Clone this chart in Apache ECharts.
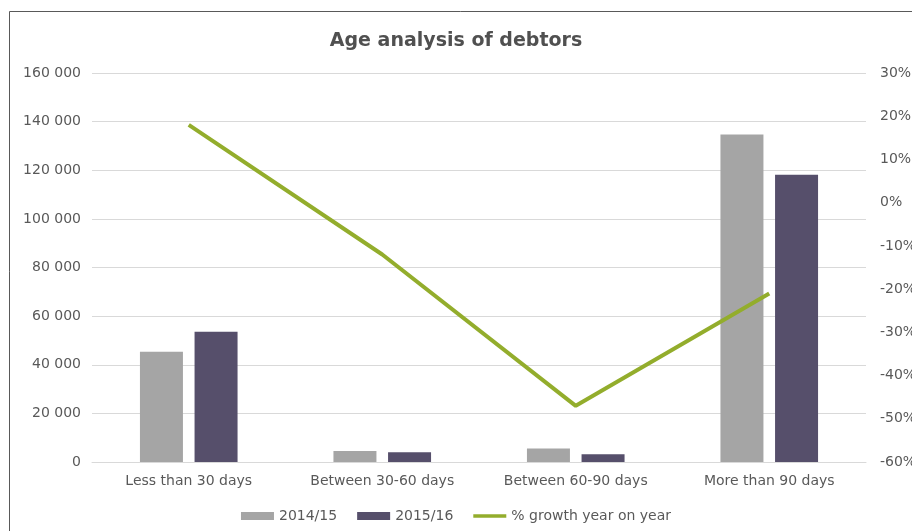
<!DOCTYPE html>
<html>
<head>
<meta charset="utf-8">
<script src="https://cdn.jsdelivr.net/npm/echarts@6/dist/echarts.min.js"></script>
<style>
  html, body { margin: 0; padding: 0; background: #ffffff; }
  #chart { width: 912px; height: 531px; }
</style>
</head>
<body>
<div id="chart"></div>
<script>
// Debtor ageing buckets
const categories = ['Less than 30 days', 'Between 30-60 days', 'Between 60-90 days', 'More than 90 days'];
const debtors2014 = [45300, 4500, 5600, 134700];
const debtors2015 = [53600, 4000, 3150, 118100];
// Year-on-year growth, in percent
const growthPct = [18, -12, -47, -21];
const leftTicks = { min: 0, max: 160000, step: 20000 };
const rightTicks = { min: -60, max: 30, step: 10 };

const font = 'DejaVu Sans';
const textColor = '#595959';

function thousands(v) {
  return String(v).replace(/\B(?=(\d{3})+(?!\d))/g, ' ');
}

const chart = echarts.init(document.getElementById('chart'), null, { renderer: 'canvas' });
chart.setOption({
  backgroundColor: '#ffffff',
  animation: false,
  title: {
    text: 'Age analysis of debtors',
    left: 'center',
    top: 27,
    textStyle: { fontFamily: font, fontSize: 19, fontWeight: 'bold', color: '#505050' }
  },
  graphic: [
    { type: 'line', shape: { x1: 9.5, y1: 11.5, x2: 912, y2: 11.5 }, style: { stroke: '#595959', lineWidth: 1 } },
    { type: 'line', shape: { x1: 9.5, y1: 11.5, x2: 9.5, y2: 531 }, style: { stroke: '#595959', lineWidth: 1 } }
  ],
  grid: { left: 92, right: 46, top: 73, bottom: 69, outerBoundsMode: 'none', containLabel: false },
  legend: {
    bottom: 3,
    left: 'center',
    itemGap: 20,
    itemWidth: 33,
    itemHeight: 8,
    textStyle: { fontFamily: font, fontSize: 14, color: textColor },
    data: [
      { name: '2014/15', icon: 'rect' },
      { name: '2015/16', icon: 'rect' },
      { name: '% growth year on year', icon: 'path://M0,0H36V4H0Z' }
    ]
  },
  xAxis: {
    type: 'category',
    data: categories,
    axisTick: { show: false },
    axisLine: { show: true, lineStyle: { color: '#d9d9d9' } },
    axisLabel: { fontFamily: font, fontSize: 14, color: textColor, margin: 12 }
  },
  yAxis: [
    {
      type: 'value',
      min: leftTicks.min, max: leftTicks.max, interval: leftTicks.step,
      axisLine: { show: false }, axisTick: { show: false },
      splitLine: { lineStyle: { color: '#d9d9d9' } },
      axisLabel: { fontFamily: font, fontSize: 14, color: textColor, margin: 11, formatter: v => thousands(v) }
    },
    {
      type: 'value',
      min: rightTicks.min, max: rightTicks.max, interval: rightTicks.step,
      axisLine: { show: false }, axisTick: { show: false },
      splitLine: { show: false },
      axisLabel: { fontFamily: font, fontSize: 14, color: textColor, margin: 14, formatter: '{value}%' }
    }
  ],
  series: [
    {
      name: '2014/15', type: 'bar', data: debtors2014,
      barWidth: 43, barGap: '27%',
      itemStyle: { color: '#a5a5a5' }
    },
    {
      name: '2015/16', type: 'bar', data: debtors2015,
      barWidth: 43,
      itemStyle: { color: '#564f6b' }
    },
    {
      name: '% growth year on year', type: 'line', yAxisIndex: 1, data: growthPct,
      symbol: 'none',
      lineStyle: { color: '#93ad2c', width: 4 },
      itemStyle: { color: '#93ad2c' }
    }
  ]
});
</script>
</body>
</html>
